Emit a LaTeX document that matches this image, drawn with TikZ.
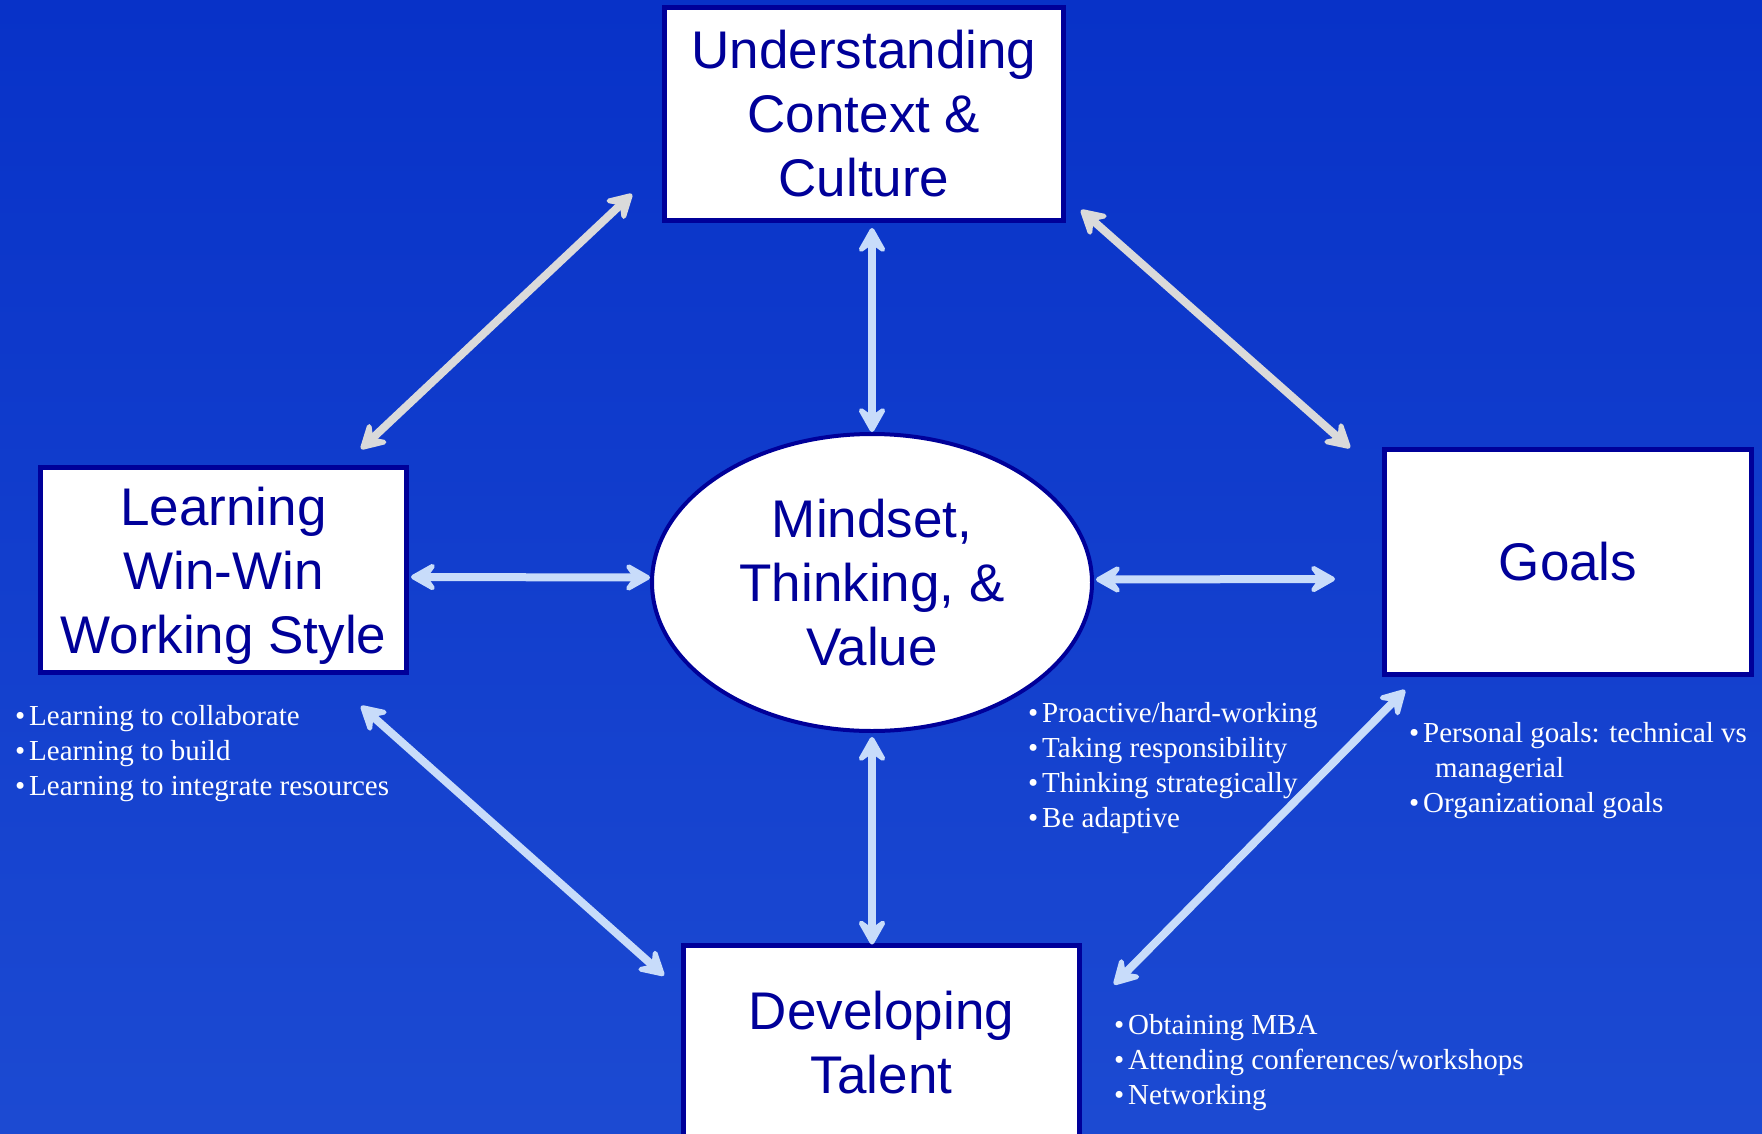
\documentclass[tikz,border=0pt]{standalone}
\usepackage{fontspec}
\setmainfont{Liberation Serif}
\newfontfamily\boxfont{Liberation Sans}
\usetikzlibrary{arrows.meta,shapes.geometric}

\definecolor{bgtop}{RGB}{8,50,200}
\definecolor{bgbottom}{RGB}{28,74,210}
\definecolor{boxblue}{RGB}{0,0,153}
\definecolor{linkblue}{RGB}{200,220,250}
\definecolor{linkgrey}{RGB}{218,218,218}

\newcommand{\bul}{\makebox[14pt][l]{\textbullet}}

\begin{document}
\begin{tikzpicture}[x=1pt,y=-1pt,
        concept/.style={rectangle,draw=boxblue,line width=5pt,fill=white,text=boxblue,
          font=\boxfont\fontsize{53}{64}\selectfont,align=center,inner sep=0pt},
        mind node/.style={ellipse,draw=boxblue,line width=4pt,fill=white,text=boxblue,
          font=\boxfont\fontsize{53}{64}\selectfont,align=center,inner sep=0pt,
          minimum width=440pt,minimum height=297pt},
        point/.style={anchor=base west,inner sep=0pt,text=white,font=\fontsize{29}{35}\selectfont},
        link/.style={line width=8pt,draw=linkblue,
          {Stealth[length=32pt,width=36pt,inset=13pt,round]}-{Stealth[length=32pt,width=36pt,inset=13pt,round]}},
        grey link/.style={link,draw=linkgrey}
      ]
      \useasboundingbox (0,0) rectangle (1762,1133);
      \shade[top color=bgtop,bottom color=bgbottom] (0,0) rectangle (1762,1133);

      % the five boxes
      \node[concept,minimum width=399pt,minimum height=213pt] (ctx) at (864,114) {Understanding\\Context \&\\Culture};
      \node[concept,minimum width=366pt,minimum height=205pt,text depth=0pt] (learn) at (223.5,570) {Learning\\Win-Win\\Working Style};
      \node[concept,minimum width=367pt,minimum height=225pt] (goals) at (1568,562) {Goals};
      \node[concept,minimum width=396pt,minimum height=196pt] (dev) at (881.5,1043) {Developing\\Talent};
      \node[mind node] (mind) at (872,582.5) {Mindset,\\Thinking, \&\\Value};

      % arrows round the centre
      \draw[grey link] ([xshift=-48pt,yshift=16pt]learn.north east) -- ([xshift=-30pt,yshift=29pt]ctx.south west);
      \draw[grey link] ([xshift=15pt,yshift=13pt]ctx.south east) -- ([xshift=-32pt,yshift=-1pt]goals.north west);
      \draw[link] ([xshift=-48pt,yshift=-31pt]learn.south east) -- ([xshift=-17pt,yshift=-33pt]dev.north west);
      \draw[link] ([xshift=23pt,yshift=-13pt]goals.south west) -- ([xshift=32pt,yshift=-42pt]dev.north east);

      % arrows to the centre
      \draw[link] ([yshift=-5pt]mind.north |- ctx.south) -- (mind.north);
      \draw[link] ([shift={(2pt,-7pt)}]learn.east) -- ([yshift=5pt]mind.west);
      \draw[link] ([shift={(2pt,3pt)}]mind.east) -- ([shift={(-47pt,-17pt)}]goals.west);
      \draw[link] ([yshift=-4pt]mind.south) -- ([shift={(-9.5pt,-2pt)}]dev.north);

      % bullet points
      \foreach \txt [count=\i] in {Learning to collaborate,Learning to build,Learning to integrate resources}
        \node[point] (learn pt\i) at (15,{725+35*(\i-1)}) {\bul\txt};
      \foreach \txt [count=\i] in {Proactive/hard-working,Taking responsibility,Thinking strategically,Be adaptive}
        \node[point] (mind pt\i) at (1028,{722+35*(\i-1)}) {\bul\txt};
      \node[point] (goal pt1) at (1409,742) {\bul Personal goals: technical vs};
      \node[point] (goal pt2) at (1435,777) {managerial};
      \node[point] (goal pt3) at (1409,812) {\bul Organizational goals};
      \foreach \txt [count=\i] in {Obtaining MBA,Attending conferences/workshops,Networking}
        \node[point] (dev pt\i) at (1114,{1034+35*(\i-1)}) {\bul\txt};
    \end{tikzpicture}
\end{document}
